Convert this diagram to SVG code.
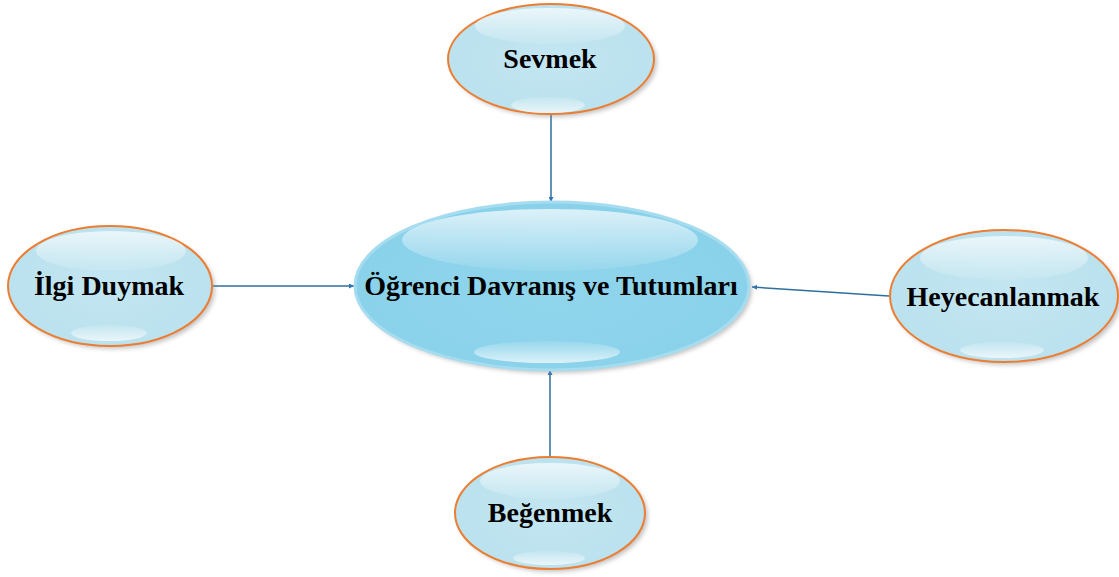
<svg xmlns="http://www.w3.org/2000/svg" width="1119" height="577" viewBox="0 0 1119 577">
  <defs>
    <style>
      .leaf { fill: url(#leafFill); stroke: #ed7d31; stroke-width: 2; }
      .hub { fill: url(#hubFill); stroke: #a6dcef; stroke-width: 3; }
      .shadow { fill: #8c8c8c; opacity: 0.5; filter: url(#soft); }
      .gloss-top { fill: url(#glossTop); }
      .gloss-bottom { fill: url(#glossBottom); }
      .label { font-family: "Liberation Serif", "Times New Roman", serif; font-weight: bold; font-size: 28px; fill: #000; text-anchor: middle; }
      .link { stroke: #2e6f9e; stroke-width: 1.5; fill: none; marker-end: url(#tip); }
    </style>
    <radialGradient id="leafFill" cx="0.5" cy="0.5" r="0.6">
      <stop offset="0" stop-color="#c3e6f1"/>
      <stop offset="1" stop-color="#b9e1ee"/>
    </radialGradient>
    <radialGradient id="hubFill" cx="0.5" cy="0.55" r="0.6">
      <stop offset="0" stop-color="#8fd5ec"/>
      <stop offset="1" stop-color="#89d1ea"/>
    </radialGradient>
    <linearGradient id="glossTop" x1="0" y1="0" x2="0" y2="1">
      <stop offset="0" stop-color="#ffffff" stop-opacity="0.7"/>
      <stop offset="1" stop-color="#ffffff" stop-opacity="0.08"/>
    </linearGradient>
    <linearGradient id="glossBottom" x1="0" y1="0" x2="0" y2="1">
      <stop offset="0" stop-color="#ffffff" stop-opacity="0.1"/>
      <stop offset="1" stop-color="#ffffff" stop-opacity="0.7"/>
    </linearGradient>
    <filter id="soft" x="-10%" y="-10%" width="120%" height="120%">
      <feGaussianBlur stdDeviation="2"/>
    </filter>
    <marker id="tip" viewBox="0 0 6 6" refX="6" refY="3" markerWidth="5" markerHeight="5" markerUnits="userSpaceOnUse" orient="auto">
      <path d="M0,0 L6,3 L0,6 Z" fill="#2e75b6"/>
    </marker>
  </defs>

  <!-- connectors -->
  <g id="connectors">
    <line class="link" x1="551" y1="115" x2="551" y2="202"/>
    <line class="link" x1="213" y1="286" x2="354" y2="286"/>
    <line class="link" x1="889" y1="296" x2="752" y2="287"/>
    <line class="link" x1="550" y1="456" x2="550" y2="370"/>
  </g>

  <!-- central node -->
  <g id="node-hub">
    <ellipse class="shadow" cx="555" cy="289" rx="197" ry="84"/>
    <ellipse class="hub" cx="552" cy="286" rx="197" ry="84"/>
    <ellipse class="gloss-top" cx="550" cy="240" rx="148" ry="31"/>
    <ellipse class="gloss-bottom" cx="547" cy="352" rx="73" ry="11"/>
    <text class="label" x="551" y="295">Öğrenci Davranış ve Tutumları</text>
  </g>

  <!-- Sevmek -->
  <g id="node-sevmek">
    <ellipse class="shadow" cx="554" cy="62" rx="103" ry="55"/>
    <ellipse class="leaf" cx="551" cy="59" rx="103" ry="55"/>
    <ellipse class="gloss-top" cx="550" cy="26" rx="75" ry="18"/>
    <ellipse class="gloss-bottom" cx="548" cy="105" rx="37" ry="8"/>
    <text class="label" x="550" y="68">Sevmek</text>
  </g>

  <!-- İlgi Duymak -->
  <g id="node-ilgi">
    <ellipse class="shadow" cx="113" cy="289" rx="102" ry="60"/>
    <ellipse class="leaf" cx="110" cy="286" rx="102" ry="60"/>
    <ellipse class="gloss-top" cx="111" cy="251" rx="75" ry="20"/>
    <ellipse class="gloss-bottom" cx="109" cy="333" rx="38" ry="8"/>
    <text class="label" x="109" y="295">İlgi Duymak</text>
  </g>

  <!-- Heyecanlanmak -->
  <g id="node-heyecan">
    <ellipse class="shadow" cx="1007" cy="299" rx="114" ry="66"/>
    <ellipse class="leaf" cx="1004" cy="296" rx="114" ry="66"/>
    <ellipse class="gloss-top" cx="1004" cy="258" rx="84" ry="22"/>
    <ellipse class="gloss-bottom" cx="1002" cy="350" rx="42" ry="8"/>
    <text class="label" x="1003" y="306">Heyecanlanmak</text>
  </g>

  <!-- Beğenmek -->
  <g id="node-begenmek">
    <ellipse class="shadow" cx="553" cy="516" rx="95" ry="56"/>
    <ellipse class="leaf" cx="550" cy="513" rx="95" ry="56"/>
    <ellipse class="gloss-top" cx="550" cy="481" rx="70" ry="18"/>
    <ellipse class="gloss-bottom" cx="549" cy="558" rx="36" ry="7"/>
    <text class="label" x="550" y="522">Beğenmek</text>
  </g>
</svg>
